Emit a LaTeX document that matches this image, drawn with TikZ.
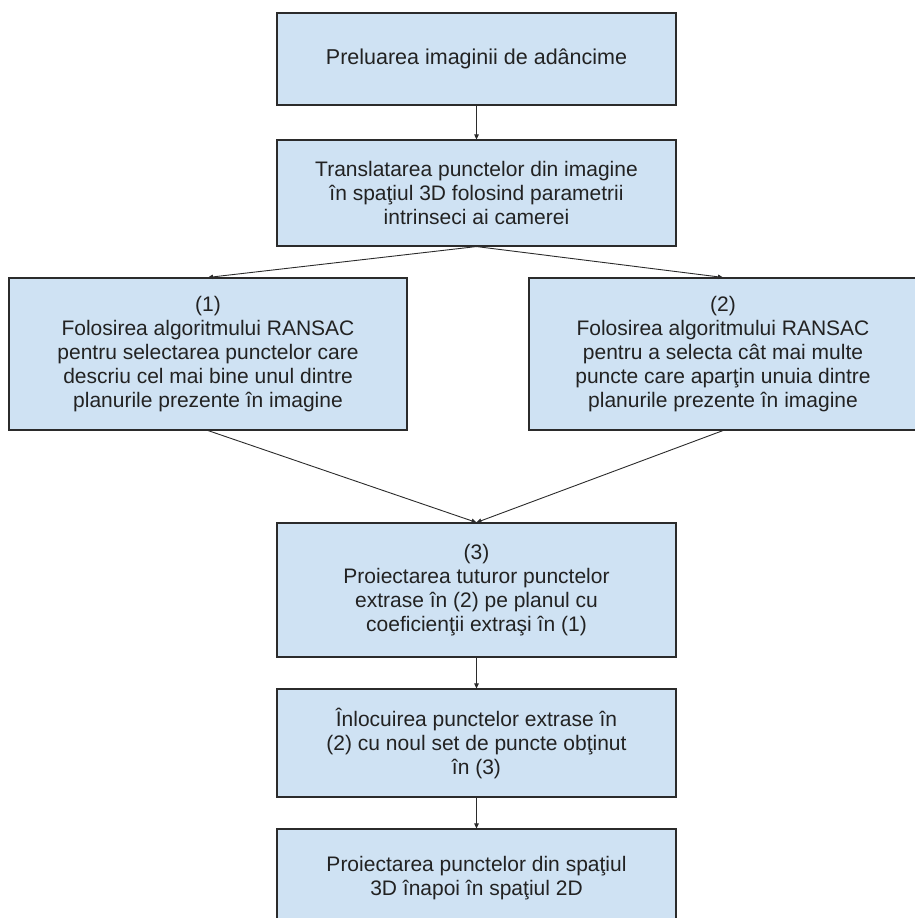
\documentclass[tikz,border=0pt]{standalone}
\usepackage{fontspec}
\setmainfont{Liberation Sans}
\usetikzlibrary{arrows.meta}
\definecolor{boxfill}{HTML}{CFE2F3}
\definecolor{boxline}{HTML}{2B2B2B}
\definecolor{txt}{HTML}{222222}
\begin{document}
\begin{tikzpicture}[x=1pt,y=-1pt,
 stepbox/.style={draw=boxline, fill=boxfill, line width=1.1pt, rectangle, inner sep=0pt, align=center, text=txt, font=\fontsize{21}{24}\selectfont},
 conn/.style={draw=boxline, line width=0.9pt, -{Triangle[length=5pt,width=4.5pt]}}]
\useasboundingbox (0,0) rectangle (915,918);
\clip (0,0) rectangle (915,918);
\node[stepbox, minimum width=399pt, minimum height=92pt, font=\fontsize{21.5}{24}\selectfont] (b1) at (476.5,59) {Preluarea imaginii de adâncime};
\node[stepbox, minimum width=399pt, minimum height=106pt] (b2) at (476.5,193) {Translatarea punctelor din imagine\\în spaţiul 3D folosind parametrii\\intrinseci ai camerei};
\node[stepbox, minimum width=398pt, minimum height=152pt] (b3) at (208,354) {(1)\\Folosirea algoritmului RANSAC\\pentru selectarea punctelor care\\descriu cel mai bine unul dintre\\planurile prezente în imagine};
\node[stepbox, minimum width=388pt, minimum height=152pt] (b4) at (723,354) {(2)\\Folosirea algoritmului RANSAC\\pentru a selecta cât mai multe\\puncte care aparţin unuia dintre\\planurile prezente în imagine};
\node[stepbox, minimum width=399pt, minimum height=134pt] (b5) at (476.5,590) {(3)\\Proiectarea tuturor punctelor\\extrase în (2) pe planul cu\\coeficienţii extraşi în (1)};
\node[stepbox, minimum width=399pt, minimum height=108pt] (b6) at (476.5,743) {Înlocuirea punctelor extrase în\\(2) cu noul set de puncte obţinut\\în (3)};
\node[stepbox, minimum width=399pt, minimum height=98pt] (b7) at (476.5,878) {Proiectarea punctelor din spaţiul\\3D înapoi în spaţiul 2D};
\draw[conn] (b1.south) -- (b2.north);
\draw[conn] (b2.south) -- (b3.north);
\draw[conn] (b2.south) -- (b4.north);
\draw[conn] (b3.south) -- (b5.north);
\draw[conn] (b4.south) -- (b5.north);
\draw[conn] (b5.south) -- (b6.north);
\draw[conn] (b6.south) -- (b7.north);
\end{tikzpicture}
\end{document}
